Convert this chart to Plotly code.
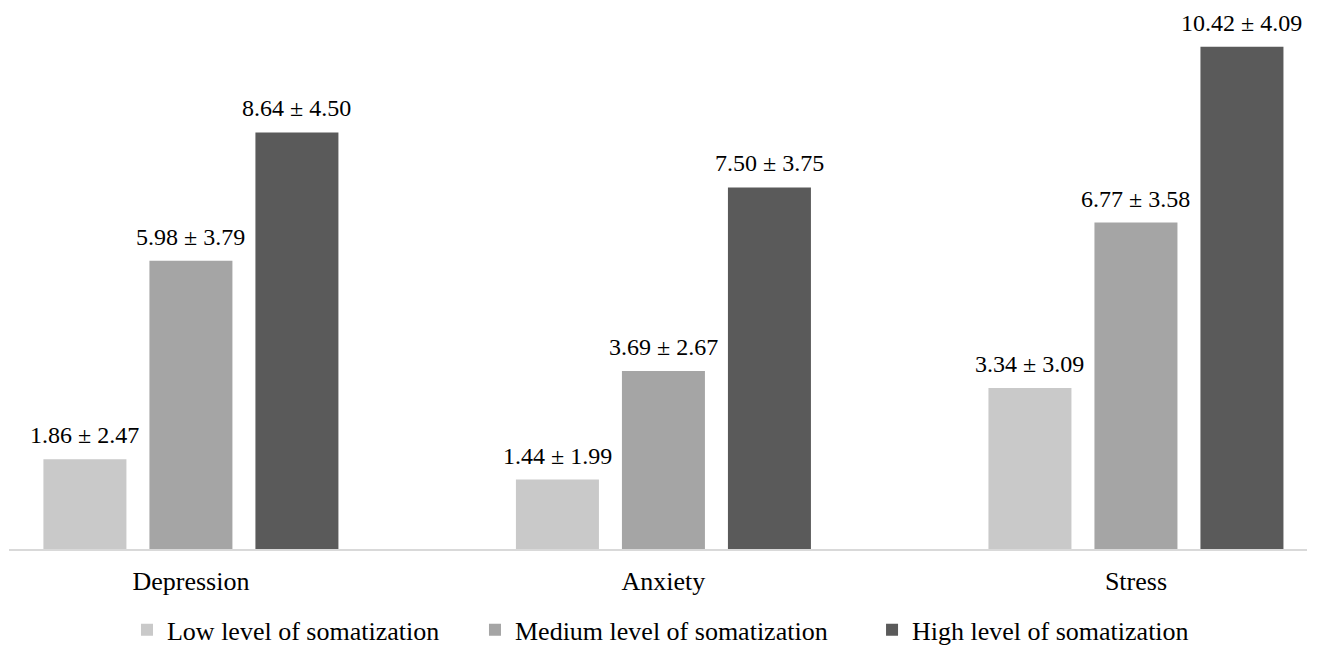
import plotly.graph_objects as go

categories = ["Depression", "Anxiety", "Stress"]
series_names = ["Low level of somatization", "Medium level of somatization", "High level of somatization"]
means = [
    [1.86, 1.44, 3.34],
    [5.98, 3.69, 6.77],
    [8.64, 7.50, 10.42],
]
sds = [
    [2.47, 1.99, 3.09],
    [3.79, 2.67, 3.58],
    [4.50, 3.75, 4.09],
]
colors = ["#c9c9c9", "#a5a5a5", "#5a5a5a"]

FONT = "Liberation Serif"
BARGAP = 0.327
GROUPGAP = 0.217
SLOT = (1 - BARGAP) / len(series_names)

legend_names = ["legend", "legend2", "legend3"]
legend_x = [0.0909, 0.359, 0.6649]

fig = go.Figure()
for k, (name, m, s, c) in enumerate(zip(series_names, means, sds, colors)):
    fig.add_trace(go.Bar(
        x=list(range(len(categories))),
        y=m,
        name=name,
        marker=dict(color=c, line=dict(width=0)),
        legend=legend_names[k],
        cliponaxis=False,
    ))
    for i, (a, b) in enumerate(zip(m, s)):
        fig.add_annotation(
            x=i + (k - (len(series_names) - 1) / 2) * SLOT, y=a,
            xref="x", yref="y",
            text=f"{a:.2f} ± {b:.2f}",
            showarrow=False, xanchor="center", yanchor="bottom", yshift=9,
            font=dict(family=FONT, size=24, color="#000000"),
        )

legend_common = dict(orientation="h", y=-0.150, yanchor="middle", xanchor="left",
                     font=dict(family=FONT, size=26, color="#000000"),
                     itemwidth=30, bgcolor="rgba(0,0,0,0)", borderwidth=0)

fig.update_layout(
    width=1309, height=640,
    margin=dict(l=1, r=10, t=2, b=99, autoexpand=False),
    paper_bgcolor="white", plot_bgcolor="white",
    barmode="group", bargap=BARGAP, bargroupgap=GROUPGAP,
    font=dict(family=FONT, size=26, color="#000000"),
    showlegend=True,
    legend=dict(x=legend_x[0], **legend_common),
    legend2=dict(x=legend_x[1], **legend_common),
    legend3=dict(x=legend_x[2], **legend_common),
    xaxis=dict(
        tickmode="array", tickvals=list(range(len(categories))), ticktext=categories,
        range=[-0.385, 2.362], showgrid=False, zeroline=False, automargin=False,
        showline=True, linecolor="#d9d9d9", linewidth=2,
        ticks="", ticklabelstandoff=8,
        tickfont=dict(family=FONT, size=26, color="#000000"),
    ),
    yaxis=dict(range=[0, 11.18], showgrid=False, zeroline=False, showticklabels=False,
               showline=False, ticks="", automargin=False),
)

fig.write_html("out.html")
